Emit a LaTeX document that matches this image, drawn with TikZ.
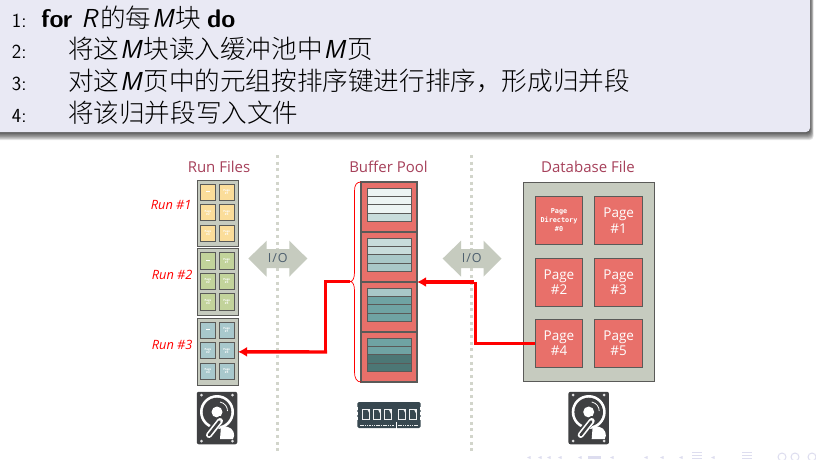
\documentclass[tikz,border=0pt]{standalone}
\usepackage{fontspec}
\usetikzlibrary{arrows.meta}
\newfontfamily\cjk{Noto Sans CJK SC Light}
\newfontfamily\osans{Open Sans}
\newfontfamily\dmono{DejaVu Sans Mono}
\definecolor{hdr}{HTML}{E9E9F4}
\definecolor{sal}{HTML}{E8706A}
\definecolor{stone}{HTML}{C6CBBF}
\definecolor{edge}{HTML}{5A5A58}
\definecolor{maroon}{HTML}{A6405A}
\definecolor{ink}{HTML}{3F4042}
\definecolor{ramc}{HTML}{37474F}
\definecolor{nav}{HTML}{DDDDEF}
\definecolor{dotc}{HTML}{D2D5CB}
\definecolor{ioc}{HTML}{4D5F6E}
\definecolor{sA}{HTML}{EDF4F3}
\definecolor{sB}{HTML}{C8DCDB}
\definecolor{sC}{HTML}{A9C8C8}
\definecolor{sD}{HTML}{6FA3A3}
\definecolor{sE}{HTML}{4C7775}
\definecolor{cY}{HTML}{FBDD9A}
\definecolor{cG}{HTML}{C2D39B}
\definecolor{cB}{HTML}{A8C8CC}
\newcommand{\bx}[6]{\node[#6,minimum width={((#4)-(#2))*1pt},minimum height={((#5)-(#3))*1pt}] (#1) at ({((#2)+(#4))/2},{((#3)+(#5))/2}) {};}
\newcommand{\strips}[6]{%
  \foreach \c [count=\k from 0] in {#3,#4,#5,#6}{
    \bx{strip#1\k}{367}{#2+\k*8.25}{411.3}{#2+\k*8.25+8.25}{stripbox,fill=\c}
  }}
\newcommand{\runcells}[3]{%
  \foreach \row [count=\r from 0] in {0,1,2}{
    \foreach \x [count=\q from 0] in {200.3,219}{
      \pgfmathtruncatemacro{\num}{\r*2+\q}
      \bx{cell#1\num}{\x}{#2+4+\r*20.5}{\x+15.3}{#2+20.3+\r*20.5}{cellbox,fill=#3}
      \ifnum\num=0
        \fill[white] ([xshift=-2.2pt]cell#1\num.center) rectangle ([xshift=2.2pt,yshift=0.7pt]cell#1\num.center);
      \else
        \node[celltext] at (cell#1\num.center) {Page\\\#\num};
      \fi
    }
  }}
\newcommand{\diskicon}[3]{%
  \begin{scope}[shift={(#2,#3)}]
    \node[diskbody] (#1) at (0,0) {};
    \fill[white] (0,-6) circle[radius=17pt];
    \fill[ink] (0,-6) circle[radius=14.3pt];
    \fill[white] (0,-6) circle[radius=5.5pt];
    \draw[white,line width=0.8pt] (3,-16) .. controls (8,-15) and (10.5,-11) .. (10.5,-7);
    \fill[white] (3,21) -- (16,21) .. controls (19,17) and (16,10) .. (11,9) .. controls (8,8) and (6,8) .. (4,8) -- cycle;
    \draw[ink,line width=8pt,line cap=round] (3,2) -- (-9,17);
    \draw[white,line width=6pt,line cap=round] (3,3) -- (-8,17);
    \draw[ink,line width=2.6pt,line cap=round] (2.5,3.5) -- (-8,17);
    \foreach \sx in {-1,1}{\foreach \sy in {-1,1}{
      \fill[white!85!ink] (\sx*15.5,\sy*23) circle[radius=1.5pt];}}
  \end{scope}}
\tikzset{
  x=1pt,y=-1pt,
  every node/.style={inner sep=0pt,outer sep=0pt},
  stripbox/.style={draw=edge,line width=0.8pt},
  cellbox/.style={draw=edge,line width=1pt},
  celltext/.style={font=\osans\bfseries\fontsize{2.8}{3.2}\selectfont,text=white,align=center},
  runbox/.style={draw=edge,fill=stone,line width=1pt},
  bufbox/.style={draw=edge,fill=sal,line width=2pt},
  dbbox/.style={draw=edge,fill=stone,line width=1pt},
  pagebox/.style={draw=edge,fill=sal,line width=1pt},
  pagetext/.style={font=\osans\fontsize{13.5}{15.5}\selectfont,text=white,align=center},
  coltitle/.style={font=\osans\fontsize{15}{17}\selectfont,text=maroon,anchor=base},
  runlabel/.style={font=\osans\itshape\fontsize{12.8}{14}\selectfont,text=red,anchor=base east},
  iolabel/.style={font=\osans\fontsize{12.5}{14}\selectfont,text=ioc},
  divider/.style={dotc,line width=3pt,dash pattern=on 3pt off 3.67pt},
  redlink/.style={red,line width=3.3pt,-{Latex[length=9pt,width=10pt]}},
  diskbody/.style={fill=ink,rounded corners=2pt,minimum width=40.5pt,minimum height=52.5pt},
  linenum/.style={font=\sffamily\fontsize{20}{22}\selectfont,anchor=base west},
  algline/.style={font=\cjk\fontsize{25.6}{28}\selectfont,anchor=base west},
  navmark/.style={fill=nav},
}
\newcommand{\lat}[1]{\hspace{1pt}{\sffamily\itshape\fontsize{26}{28}\selectfont #1}\hspace{2pt}}
\begin{document}
\begin{tikzpicture}
\useasboundingbox (0,0) rectangle (816,459);
\fill[white] (0,0) rectangle (816,459);
% header
\foreach \i in {9,8,...,1}{
  \fill[black,opacity=0.10,rounded corners=4pt] (-8,-8) rectangle (810+\i*0.4,132+\i*0.9);
}
\fill[hdr,rounded corners=4pt] (-8,-8) rectangle (810,132);
\node[linenum] (n1) at (12,27) {1:};
\node[linenum] (n2) at (12,58) {2:};
\node[linenum] (n3) at (12,90) {3:};
\node[linenum] (n4) at (12,122) {4:};
\node[algline] (l1) at (41,27) {{\sffamily\bfseries\fontsize{25.5}{28}\selectfont for}\hspace{8pt}\lat{R}\hspace{1pt}的每\lat{M}块\hspace{6pt}{\sffamily\bfseries\fontsize{25.5}{28}\selectfont do}};
\node[algline] (l2) at (68,58) {将这\lat{M}块读入缓冲池中\lat{M}页};
\node[algline] (l3) at (68,90) {对这\lat{M}页中的元组按排序键进行排序，形成归并段};
\node[algline] (l4) at (68,122) {将该归并段写入文件};
% dividers
\coordinate (d1a) at (277,155); \coordinate (d1b) at (277,451);
\coordinate (d2a) at (471.3,155); \coordinate (d2b) at (471.3,451);
\draw[divider] (d1a) -- (d1b);
\draw[divider] (d2a) -- (d2b);
% I/O arrows
\fill[stone] (248.3,258.5) -- (266.7,240.7) -- (266.7,249) -- (289.3,249) -- (289.3,240.7) -- (307.3,258.5) -- (289.3,276.7) -- (289.3,268) -- (266.7,268) -- (266.7,276.7) -- cycle;
\node[iolabel] (io1) at (277.8,258.5) {I\hspace{1pt}/\hspace{1pt}O};
\fill[stone] (442.7,258.5) -- (461,240.7) -- (461,249) -- (483.5,249) -- (483.5,240.7) -- (501.5,258.5) -- (483.5,276.7) -- (483.5,268) -- (461,268) -- (461,276.7) -- cycle;
\node[iolabel] (io2) at (471.8,258.5) {I\hspace{1pt}/\hspace{1pt}O};
% titles
\node[coltitle] (t1) at (219,172) {Run Files};
\node[coltitle] (t2) at (388.5,172) {Buffer Pool};
\node[coltitle] (t3) at (588,172) {Database File};
% run files
\bx{run1}{197}{180}{238}{246.7}{runbox}
\bx{run2}{197}{248.7}{238}{315.7}{runbox}
\bx{run3}{197}{318}{238}{385.7}{runbox}
\runcells{a}{180}{cY}
\runcells{b}{248.7}{cG}
\runcells{c}{318}{cB}
\node[runlabel] (r1) at (191.5,209) {Run \#1};
\node[runlabel] (r2) at (192.5,279) {Run \#2};
\node[runlabel] (r3) at (192.5,349) {Run \#3};
% buffer pool
\bx{buf1}{361}{182}{417}{232}{bufbox}
\bx{buf2}{361}{232}{417}{282}{bufbox}
\bx{buf3}{361}{282}{417}{332}{bufbox}
\bx{buf4}{361}{332}{417}{382}{bufbox}
\strips{a}{188.3}{sA}{sA}{sA}{sB}
\strips{b}{238.3}{sB}{sB}{sC}{sC}
\strips{c}{288.3}{sC}{sD}{sD}{sD}
\strips{d}{338.3}{sD}{sD}{sE}{sE}
% brace
\coordinate (bracetip) at (350,281.5);
\draw[red,line width=0.7pt] (buf1.north west) .. controls (356.5,182) and (354.5,185) .. (354.5,191) -- (354.5,272) .. controls (354.5,278) and (353,281.5) .. (bracetip) .. controls (353,281.5) and (354.5,285) .. (354.5,291) -- (354.5,372) .. controls (354.5,378) and (356.5,382) .. (buf4.south west);
% database
\bx{db}{523.5}{182.5}{654.3}{381}{dbbox}
\bx{p0}{535.3}{196.7}{582.7}{244.3}{pagebox}
\bx{p1}{594.7}{196.7}{642.7}{244.3}{pagebox}
\bx{p2}{535.3}{258.7}{582.7}{306}{pagebox}
\bx{p3}{594.7}{258.7}{642.7}{306}{pagebox}
\bx{p4}{535.3}{319.7}{582.7}{367}{pagebox}
\bx{p5}{594.7}{319.7}{642.7}{367}{pagebox}
\node[font=\dmono\bfseries\fontsize{6.8}{9}\selectfont,text=white,align=center] (p0t) at (p0.center) {Page\\Directory\\\#0};
\node[pagetext] (p1t) at (p1.center) {Page\\\#1};
\node[pagetext] (p2t) at (p2.center) {Page\\\#2};
\node[pagetext] (p3t) at (p3.center) {Page\\\#3};
\node[pagetext] (p4t) at (p4.center) {Page\\\#4};
\node[pagetext] (p5t) at (p5.center) {Page\\\#5};
% connectors
\coordinate (elbowA) at (475.7,282);
\coordinate (elbowB) at (325.5,351.9);
\draw[red,line width=3.3pt] (p4.west) -| (elbowA);
\draw[redlink] ([xshift=-1.65pt]elbowA) -- (buf3.north east);
\draw[red,line width=3.3pt] (bracetip) -| (elbowB);
\draw[redlink] ([xshift=1.65pt]elbowB) -- (run3.east);
% disks
\diskicon{disk1}{217}{418}
\diskicon{disk2}{588.7}{418}
% RAM
\node[fill=ramc,rounded corners=1.5pt,minimum width=63.4pt,minimum height=26pt] (ram) at (389,415) {};
\foreach \cx in {362.7,373.3,384,398.7,409.3}{
  \draw[white!92!ramc,line width=1pt] (\cx,409) rectangle (\cx+7,419);
  \fill[white!92!ramc] (\cx+4.5,409) -- (\cx+7,409) -- (\cx+7,414) -- cycle;
}
\foreach \ny in {408.5,413.5,418.5}{
  \fill[white] (356.5,\ny-1.2) rectangle (358.3,\ny+1.2);
  \fill[white] (419.7,\ny-1.2) rectangle (421.5,\ny+1.2);
}
\draw[white!90!ramc,line width=1.3pt,dash pattern=on 1.5pt off 0.8pt] (360,425.7) -- (394,425.7);
\draw[white!90!ramc,line width=1.3pt,dash pattern=on 1.5pt off 0.8pt] (398,425.7) -- (418,425.7);
\draw[white,line width=1pt] (396,422) -- (396,428.5);
% navigation marks
\foreach \a in {527,538,547,558,578,610,644,660,679,711}{
  \fill[navmark] (\a,457.5) -- (\a+3.5,456) -- (\a+3.5,459) -- cycle;
}
\fill[navmark] (588.3,456) rectangle (601,459);
\foreach \a in {691.7,741.7}{
  \fill[navmark] (\a,452) rectangle (\a+10,453);
  \fill[navmark] (\a,455) rectangle (\a+10,456);
  \fill[navmark] (\a,458) rectangle (\a+10,459);
}
\foreach \a in {782,795,812}{\draw[nav,line width=1pt] (\a,457) circle[radius=4pt];}
\end{tikzpicture}
\end{document}
